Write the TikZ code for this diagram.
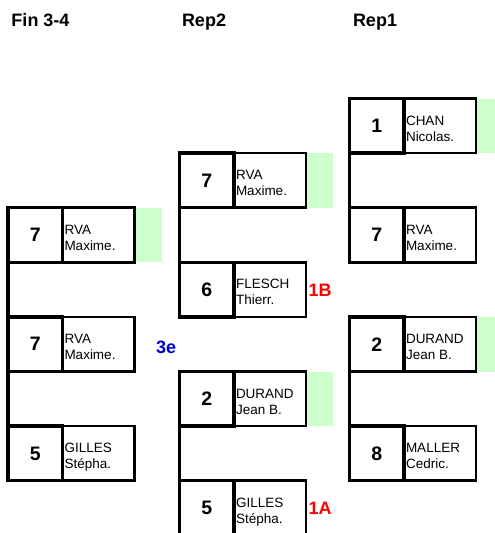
\documentclass[tikz,border=0pt]{standalone}
\usepackage{fontspec}
\setmainfont{Liberation Sans}
\usetikzlibrary{calc}
\definecolor{winfill}{RGB}{204,255,204}
\definecolor{lblblue}{RGB}{0,0,204}
\definecolor{lblred}{RGB}{255,0,0}
\tikzset{
  numbox/.style={draw, line width=3.5pt, minimum width=54.5pt, minimum height=54.6pt,
    inner sep=0pt, outer sep=0pt, anchor=north west,
    font=\fontsize{19.5}{22}\selectfont\bfseries},
  namebox/.style={draw, line width=2.6pt, minimum width=72pt, minimum height=54.6pt,
    inner sep=0pt, outer sep=0pt, anchor=north west},
  nametext/.style={anchor=base west, inner sep=0pt, font=\fontsize{13.5}{16}\selectfont},
  header/.style={anchor=base west, inner sep=0pt, font=\fontsize{18}{20}\selectfont\bfseries},
  tagtext/.style={anchor=base west, inner sep=0pt, font=\fontsize{18}{20}\selectfont\bfseries},
  link/.style={line width=3.2pt},
  wincell/.style={fill=winfill, draw=none}
}
\newcommand{\bracketseat}[6]{%
  \node[numbox] (#1n) at (#2,#3) {#4};
  \node[namebox] (#1) at (#1n.north east) {};
  \node[nametext] (#1a) at ($(#1.north west)+(1.8,26.5)$) {#5};
  \node[nametext] (#1b) at ($(#1.north west)+(1.8,42.5)$) {#6};
}
\newcommand{\wingreen}[1]{%
  \fill[wincell] ($(#1.north east)+(1.3,0)$) rectangle ($(#1.south east)+(27,0)$);
}
\begin{document}
\begin{tikzpicture}[x=1pt,y=-1pt]
\useasboundingbox (0,0) rectangle (495,533);
\clip (0,0) rectangle (495,533);
% headers
\node[header] (h1) at (11.3,26.7) {Fin 3-4};
\node[header] (h2) at (181.8,26.7) {Rep2};
\node[header] (h3) at (352.8,26.7) {Rep1};
% column 1
\bracketseat{ca}{8}{207.7}{7}{RVA}{Maxime.}
\bracketseat{cb}{8}{316.9}{7}{RVA}{Maxime.}
\bracketseat{cc}{8}{426.1}{5}{GILLES}{Stépha.}
% column 2
\bracketseat{da}{179.5}{153.1}{7}{RVA}{Maxime.}
\bracketseat{db}{179.5}{262.3}{6}{FLESCH}{Thierr.}
\bracketseat{dc}{179.5}{371.5}{2}{DURAND}{Jean B.}
\bracketseat{dd}{179.5}{480.7}{5}{GILLES}{Stépha.}
% column 3
\bracketseat{ea}{349.5}{98.5}{1}{CHAN}{Nicolas.}
\bracketseat{eb}{349.5}{207.7}{7}{RVA}{Maxime.}
\bracketseat{ec}{349.5}{316.9}{2}{DURAND}{Jean B.}
\bracketseat{ed}{349.5}{426.1}{8}{MALLER}{Cedric.}
% winner cells
\wingreen{ca}
\wingreen{da}
\wingreen{dc}
\wingreen{ea}
\wingreen{ec}
% connectors
\draw[link] (can.south west) -- (cbn.north west);
\draw[link] (cbn.south west) -- (ccn.north west);
\draw[link] (dan.south west) -- (dbn.north west);
\draw[link] (dcn.south west) -- (ddn.north west);
\draw[link] (ean.south west) -- (ebn.north west);
\draw[link] (ecn.south west) -- (edn.north west);
% tags
\node[tagtext, text=lblblue] (t3e) at (156,353) {3e};
\node[tagtext, text=lblred] (t1b) at (308.5,296.5) {1B};
\node[tagtext, text=lblred] (t1a) at (308.5,514) {1A};
\end{tikzpicture}
\end{document}
